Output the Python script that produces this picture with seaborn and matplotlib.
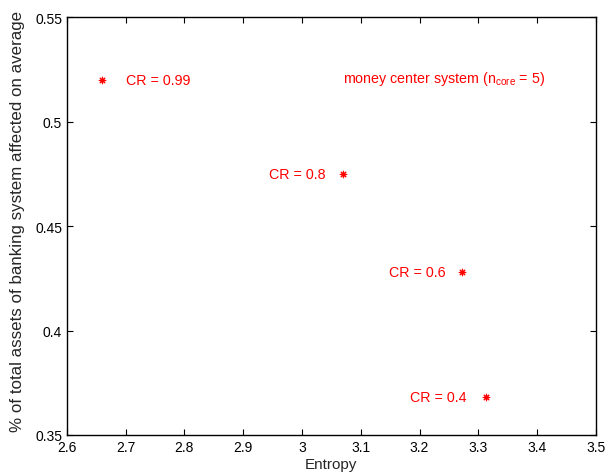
import matplotlib
matplotlib.use('Agg')
import matplotlib.pyplot as plt
import seaborn as sns
import pandas as pd

# values
entropy = [2.66, 3.07, 3.273, 3.313]
assets_hit = [0.520, 0.475, 0.428, 0.368]
cr_labels = ['CR = 0.99', 'CR = 0.8', 'CR = 0.6', 'CR = 0.4']
# label offsets (points) and alignment, relative to each marker
label_dx = [17, -13, -12, -14]
label_ha = ['left', 'right', 'right', 'right']

x_ticks = [2.6, 2.7, 2.8, 2.9, 3.0, 3.1, 3.2, 3.3, 3.4, 3.5]
y_ticks = [0.35, 0.4, 0.45, 0.5, 0.55]

df = pd.DataFrame({'Entropy': entropy, 'share': assets_hit})

sns.set_style('ticks')
plt.rcParams['font.family'] = ['Liberation Sans', 'DejaVu Sans']
plt.rcParams['mathtext.default'] = 'regular'

fig = plt.figure(figsize=(6.08, 4.77), dpi=100)
ax = fig.add_axes([0.110, 0.086, 0.870, 0.876])

sns.scatterplot(data=df, x='Entropy', y='share', ax=ax, marker=(8, 2, 0),
                color='red', edgecolor='red', s=22, linewidth=0.8, zorder=3)

for x, y, lab, dx, ha in zip(entropy, assets_hit, cr_labels, label_dx, label_ha):
    ax.annotate(lab, (x, y), xytext=(dx, 0), textcoords='offset points',
                ha=ha, va='center', color='red', fontsize=10.3)

ax.text(3.07, 0.521, 'money center system (n$_{core}$ = 5)', color='red',
        fontsize=10.3, va='center', ha='left')

ax.set_xlim(2.6, 3.5)
ax.set_ylim(0.35, 0.55)
ax.set_xticks(x_ticks)
ax.set_xticklabels(['2.6', '2.7', '2.8', '2.9', '3', '3.1', '3.2', '3.3', '3.4', '3.5'])
ax.set_yticks(y_ticks)
ax.set_yticklabels(['0.35', '0.4', '0.45', '0.5', '0.55'])
ax.tick_params(direction='in', top=True, right=True, labelsize=10, length=4,
               width=0.8, colors='black')
for sp in ax.spines.values():
    sp.set_linewidth(1.0)
    sp.set_color('black')

ax.set_xlabel('Entropy', fontsize=11, labelpad=2)
ax.set_ylabel('% of total assets of banking system affected on average',
              fontsize=12.2)
ax.yaxis.set_label_coords(-0.080, 0.514)

fig.savefig('out.png', dpi=100)
